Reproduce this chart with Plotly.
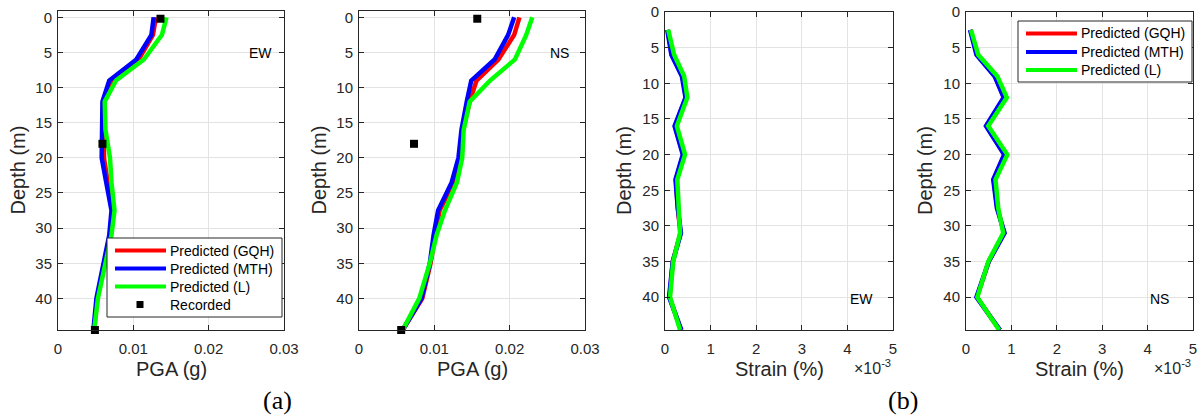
import plotly.graph_objects as go
from plotly.subplots import make_subplots

W, H = 1201, 415

# PGA profiles (depth in m, PGA in g)
pga_depth = [0, 2.5, 6, 9, 12, 16, 20, 23.5, 27.5, 31, 35, 40, 44.5]
pga_ew_gqh = [0.0130, 0.0126, 0.0107, 0.0071, 0.0061, 0.0061, 0.0061, 0.0066, 0.0072, 0.0069, 0.0061, 0.0052, 0.0048]
pga_ew_mth = [0.0127, 0.0124, 0.0104, 0.0068, 0.0059, 0.0059, 0.0058, 0.0064, 0.0071, 0.0068, 0.0060, 0.0051, 0.0047]
pga_ew_l = [0.0144, 0.0138, 0.0114, 0.0077, 0.0062, 0.0063, 0.0069, 0.0071, 0.0075, 0.0071, 0.0063, 0.0053, 0.0048]
pga_ns_gqh = [0.0213, 0.0206, 0.0185, 0.0156, 0.0147, 0.0138, 0.0133, 0.0126, 0.0107, 0.0102, 0.0095, 0.0084, 0.0058]
pga_ns_mth = [0.0206, 0.0198, 0.0180, 0.0149, 0.0143, 0.0136, 0.0132, 0.0123, 0.0105, 0.0099, 0.0094, 0.0083, 0.0058]
pga_ns_l = [0.0230, 0.0222, 0.0207, 0.0174, 0.0147, 0.0139, 0.0137, 0.0130, 0.0114, 0.0103, 0.0094, 0.0080, 0.0058]

rec_depth = [0.2, 18, 44.5]
rec_ew = [0.0136, 0.0059, 0.0049]
rec_ns = [0.0157, 0.0073, 0.0056]

# strain profiles (depth in m, strain in %)
strain_depth = [2.5, 6, 9, 12, 16, 20, 23.5, 27.5, 31, 35, 40, 44.6]
strain_ew_gqh = [0.06e-3, 0.15e-3, 0.38e-3, 0.46e-3, 0.22e-3, 0.40e-3, 0.24e-3, 0.28e-3, 0.34e-3, 0.17e-3, 0.10e-3, 0.35e-3]
strain_ew_mth = [0.05e-3, 0.14e-3, 0.37e-3, 0.45e-3, 0.21e-3, 0.39e-3, 0.23e-3, 0.28e-3, 0.35e-3, 0.17e-3, 0.09e-3, 0.36e-3]
strain_ew_l = [0.07e-3, 0.20e-3, 0.42e-3, 0.49e-3, 0.26e-3, 0.44e-3, 0.27e-3, 0.30e-3, 0.33e-3, 0.18e-3, 0.11e-3, 0.33e-3]
strain_ns_gqh = [0.10e-3, 0.24e-3, 0.64e-3, 0.84e-3, 0.45e-3, 0.85e-3, 0.61e-3, 0.69e-3, 0.84e-3, 0.50e-3, 0.24e-3, 0.74e-3]
strain_ns_mth = [0.09e-3, 0.23e-3, 0.63e-3, 0.83e-3, 0.44e-3, 0.84e-3, 0.60e-3, 0.68e-3, 0.85e-3, 0.50e-3, 0.23e-3, 0.75e-3]
strain_ns_l = [0.11e-3, 0.27e-3, 0.69e-3, 0.90e-3, 0.49e-3, 0.91e-3, 0.65e-3, 0.71e-3, 0.82e-3, 0.49e-3, 0.25e-3, 0.73e-3]

pga_ticks = [0, 0.01, 0.02, 0.03]
pga_ticktext = ["0", "0.01", "0.02", "0.03"]
strain_ticks = [0, 1e-3, 2e-3, 3e-3, 4e-3, 5e-3]
strain_ticktext = ["0", "1", "2", "3", "4", "5"]
depth_ticks = [0, 5, 10, 15, 20, 25, 30, 35, 40]

names = ["Predicted (GQH)", "Predicted (MTH)", "Predicted (L)"]
colors = ["#FF0000", "#0000FF", "#00FF00"]
FONT = "Liberation Sans, Arial, sans-serif"
AXC = "#262626"

# panel boxes in pixels: (x0, x1, y_top, y_bottom)
boxes = [(58, 284, 11, 330), (359, 585, 11, 330), (665, 893, 12, 330), (966, 1193, 12, 330)]

fig = make_subplots(rows=1, cols=4)

panels = [
    (pga_depth, [pga_ew_gqh, pga_ew_mth, pga_ew_l], rec_ew),
    (pga_depth, [pga_ns_gqh, pga_ns_mth, pga_ns_l], rec_ns),
    (strain_depth, [strain_ew_gqh, strain_ew_mth, strain_ew_l], None),
    (strain_depth, [strain_ns_gqh, strain_ns_mth, strain_ns_l], None),
]

for i, (depth, series, rec) in enumerate(panels):
    for name, color, vals in zip(names, colors, series):
        fig.add_trace(
            go.Scatter(x=vals, y=depth, mode="lines", line=dict(color=color, width=4.5), name=name),
            row=1, col=i + 1,
        )
    if rec is not None:
        fig.add_trace(
            go.Scatter(
                x=rec, y=rec_depth, mode="markers",
                marker=dict(symbol="square", size=8, color="black"),
                name="Recorded", cliponaxis=False,
            ),
            row=1, col=i + 1,
        )

axis_common = dict(
    showline=True, linecolor=AXC, linewidth=1, mirror="ticks",
    ticks="inside", ticklen=5, tickcolor=AXC, automargin=False,
    showgrid=True, gridcolor="#E3E3E3", gridwidth=1, zeroline=False,
    tickfont=dict(family=FONT, size=15, color=AXC),
)

for i, (x0, x1, yt, yb) in enumerate(boxes):
    n = "" if i == 0 else str(i + 1)
    xa = dict(axis_common, domain=[x0 / W, x1 / W], ticklabelstandoff=5)
    ya = dict(axis_common, domain=[1 - yb / H, 1 - yt / H], tickvals=depth_ticks, ticklabelstandoff=2)
    if i < 2:
        xa.update(range=[0, 0.03], tickvals=pga_ticks, ticktext=pga_ticktext)
        ya.update(range=[44.5, -0.9])
    else:
        xa.update(range=[0, 5e-3], tickvals=strain_ticks, ticktext=strain_ticktext)
        ya.update(range=[44.6, 0])
    fig.layout["xaxis" + n].update(xa)
    fig.layout["yaxis" + n].update(ya)


def text_at(txt, px, py, size, family=FONT, color=AXC, angle=0, xanchor="center"):
    return dict(
        x=px / W, y=1 - py / H, xref="paper", yref="paper", text=txt,
        textangle=angle, showarrow=False, xanchor=xanchor, yanchor="middle",
        font=dict(family=family, size=size, color=color),
    )


annotations = []
shapes = []
for i, (x0, x1, yt, yb) in enumerate(boxes):
    annotations.append(text_at("Depth (m)", x0 - 41, (yt + yb) / 2, 20, angle=-90))
    annotations.append(text_at("PGA (g)" if i < 2 else "Strain (%)", (x0 + x1) / 2, 369, 20))
    if i >= 2:
        annotations.append(text_at("×10<sup>-3</sup>", x1, 367, 16, xanchor="right"))

for txt, px, py in [("EW", 260, 53), ("NS", 559, 53), ("EW", 861, 299), ("NS", 1159, 299)]:
    annotations.append(text_at(txt, px, py, 14, color="black"))

for txt, px in [("(a)", 277), ("(b)", 903)]:
    annotations.append(text_at(txt, px, 400, 26, family="Liberation Serif, Times New Roman, serif", color="black"))


def add_legend(bx0, bx1, by0, by1, rows, with_recorded):
    shapes.append(dict(
        type="rect", xref="paper", yref="paper",
        x0=bx0 / W, x1=bx1 / W, y0=1 - by1 / H, y1=1 - by0 / H,
        fillcolor="white", line=dict(color=AXC, width=1), layer="above",
    ))
    labels = names + (["Recorded"] if with_recorded else [])
    for k, label in enumerate(labels):
        ry = rows[k]
        if k < 3:
            shapes.append(dict(
                type="line", xref="paper", yref="paper",
                x0=(bx0 + 8) / W, x1=(bx0 + 59) / W, y0=1 - ry / H, y1=1 - ry / H,
                line=dict(color=colors[k], width=4), layer="above",
            ))
        else:
            shapes.append(dict(
                type="rect", xref="paper", yref="paper",
                x0=(bx0 + 29.5) / W, x1=(bx0 + 36.5) / W, y0=1 - (ry + 3.5) / H, y1=1 - (ry - 3.5) / H,
                fillcolor="black", line=dict(width=0), layer="above",
            ))
        annotations.append(text_at(label, bx0 + 61, ry, 14, color="black", xanchor="left"))


add_legend(107, 282, 238, 317, [250.5, 268.5, 286.5, 304.5], True)
add_legend(1018, 1192, 21, 82, [33.5, 52, 70], False)

fig.update_layout(
    width=W, height=H,
    margin=dict(l=0, r=0, t=0, b=0),
    plot_bgcolor="white", paper_bgcolor="white",
    showlegend=False,
    annotations=annotations,
    shapes=shapes,
)

# the page's default 8px body margin would push the 1201x415 figure out of the window
fig.write_html(
    "out.html",
    config={"displayModeBar": False},
    post_script="document.body.style.margin = '0';",
)
